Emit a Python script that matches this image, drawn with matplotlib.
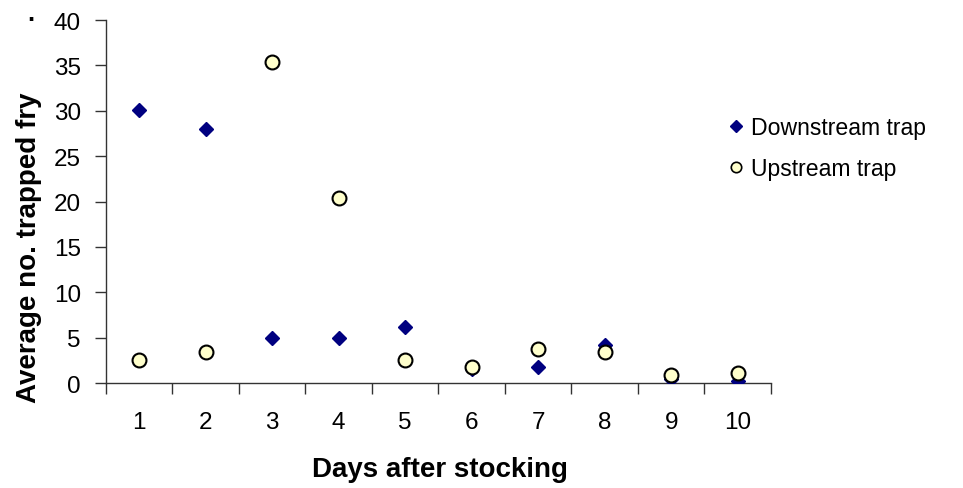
import numpy as np
import matplotlib.pyplot as plt
from matplotlib.lines import Line2D

plt.rcParams['font.family'] = ['Liberation Sans', 'DejaVu Sans']

days = [1, 2, 3, 4, 5, 6, 7, 8, 9, 10]
downstream = [30.1, 28.0, 5.0, 5.0, 6.2, 1.5, 1.8, 4.2, 0.45, 0.25]
upstream = [2.5, 3.45, 35.4, 20.4, 2.5, 1.8, 3.7, 3.45, 0.9, 1.1]
yticks = [0, 5, 10, 15, 20, 25, 30, 35, 40]


fig = plt.figure(figsize=(9.63, 4.89), dpi=100)
ax = fig.add_axes([0.110, 0.2147, 0.6906, 0.7423])

x = np.arange(len(days))
ax.plot(x, downstream, 'D', color='#000080', markersize=7.5, linestyle='none',
        label='Downstream trap', zorder=3)
ax.plot(x, upstream, 'o', markerfacecolor='#FFFFCC', markeredgecolor='black',
        markeredgewidth=1.5, markersize=10, linestyle='none',
        label='Upstream trap', zorder=4)

ax.set_xlim(-0.5, len(days) - 0.5)
ax.set_ylim(0, 40)
ax.set_yticks(yticks)
ax.set_yticklabels([str(v) for v in yticks], fontsize=17.5)

# category axis: labels centred, ticks between categories
ax.set_xticks(np.arange(-0.5, len(days)), minor=False)
ax.set_xticklabels([])
ax.set_xticks(x, minor=True)
ax.set_xticklabels([str(d) for d in days], minor=True, fontsize=17.5)
ax.tick_params(axis='x', which='minor', length=0, pad=20)
ax.tick_params(axis='x', which='major', length=8, width=1, color='#333333', direction='out')
ax.tick_params(axis='y', length=8, width=1, color='#333333', direction='out', pad=10)

for s in ['top', 'right']:
    ax.spines[s].set_visible(False)
for s in ['left', 'bottom']:
    ax.spines[s].set_color('#333333')
    ax.spines[s].set_linewidth(1)

# axis titles placed as in the original
fig.text(0.457, 0.039, 'Days after stocking', fontsize=20, fontweight='bold',
         ha='center', va='center')
fig.text(0.030, 0.493, 'Average no. trapped fry', fontsize=20, fontweight='bold',
         ha='center', va='center', rotation=90)

handles = [
    Line2D([0], [0], marker='D', color='#000080', linestyle='none', markersize=6.5),
    Line2D([0], [0], marker='o', markerfacecolor='#FFFFCC', markeredgecolor='black',
           markeredgewidth=1.2, linestyle='none', markersize=7.5),
]
fig.legend(handles, ['Downstream trap', 'Upstream trap'], loc='center left',
           bbox_to_anchor=(0.7356, 0.695), frameon=False, fontsize=16.6,
           handlelength=0.6, handletextpad=0.35, labelspacing=0.8)

fig.text(0.033, 0.958, '·', fontsize=18, fontweight='bold', ha='center', va='center')

fig.savefig('out.png', dpi=100)
